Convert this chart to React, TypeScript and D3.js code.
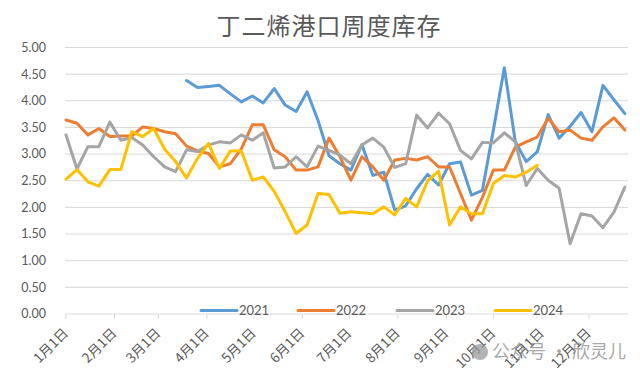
import React from 'react';
import * as d3 from 'd3';

const TITLE = '丁二烯港口周度库存';
const WATERMARK = '公众号 · 欣灵儿';

const yTickValues = [0, 0.5, 1, 1.5, 2, 2.5, 3, 3.5, 4, 4.5, 5];
const monthLabels = ['1月1日', '2月1日', '3月1日', '4月1日', '5月1日', '6月1日', '7月1日', '8月1日', '9月1日', '10月1日', '11月1日', '12月1日'];

const seriesNames = ['2021', '2022', '2023', '2024'];
const seriesColors = ['#5B9BD5', '#ED7D31', '#A5A5A5', '#FFC000'];
// first week index of each series (weeks counted from 1月1日)
const seriesStartWeek = [11, 0, 0, 0];

const values2021 = [4.38, 4.25, 4.27, 4.29, 4.13, 3.98, 4.09, 3.96, 4.23, 3.92, 3.8, 4.17, 3.63, 2.97, 2.82, 2.7, 3.18, 2.6, 2.66, 1.95, 2.03, 2.35, 2.62, 2.42, 2.82, 2.85, 2.23, 2.32, 3.45, 4.62, 3.23, 2.86, 3.04, 3.74, 3.3, 3.52, 3.78, 3.42, 4.29, 4.02, 3.76];
const values2022 = [3.64, 3.58, 3.36, 3.48, 3.33, 3.34, 3.34, 3.51, 3.48, 3.42, 3.38, 3.15, 3.06, 3.01, 2.76, 2.82, 3.1, 3.55, 3.55, 3.08, 2.95, 2.7, 2.7, 2.76, 3.3, 2.95, 2.51, 2.95, 2.76, 2.51, 2.89, 2.92, 2.89, 2.95, 2.76, 2.76, 2.26, 1.76, 2.19, 2.7, 2.7, 3.13, 3.23, 3.32, 3.67, 3.42, 3.45, 3.3, 3.26, 3.51, 3.68, 3.45];
const values2023 = [3.36, 2.72, 3.14, 3.14, 3.6, 3.26, 3.31, 3.17, 2.95, 2.76, 2.67, 3.08, 3.05, 3.17, 3.23, 3.21, 3.36, 3.26, 3.4, 2.74, 2.76, 2.95, 2.76, 3.15, 3.07, 2.98, 2.82, 3.17, 3.3, 3.13, 2.75, 2.82, 3.73, 3.49, 3.77, 3.57, 3.07, 2.91, 3.22, 3.21, 3.4, 3.23, 2.41, 2.73, 2.51, 2.36, 1.32, 1.88, 1.84, 1.62, 1.91, 2.38];
const values2024 = [2.53, 2.71, 2.48, 2.4, 2.71, 2.71, 3.42, 3.33, 3.48, 3.09, 2.86, 2.55, 2.92, 3.2, 2.73, 3.06, 3.06, 2.51, 2.57, 2.3, 1.92, 1.51, 1.67, 2.26, 2.24, 1.89, 1.92, 1.9, 1.88, 2.01, 1.86, 2.17, 2.01, 2.5, 2.68, 1.67, 2.01, 1.88, 1.88, 2.45, 2.6, 2.57, 2.66, 2.79];

const seriesValues = [values2021, values2022, values2023, values2024];

const W = 640;
const H = 378;
const plotLeft = 66;
const plotRight = 628;
const plotTop = 47.5;
const plotBottom = 314;

const base = new Date(2001, 0, 1);
const weekDate = (i: number) => d3.timeDay.offset(base, 7 * i);

export default function App() {
  const x = d3.scaleTime().domain([base, new Date(2001, 11, 26)]).range([plotLeft, plotRight]);
  const y = d3.scaleLinear().domain([0, 5]).range([plotBottom, plotTop]);
  const monthTicks = d3.timeMonth.range(base, new Date(2001, 11, 2));

  const line = d3
    .line<{ d: Date; v: number }>()
    .x((p) => x(p.d))
    .y((p) => y(p.v))
    .curve(d3.curveLinear);

  const numFont = "Lato, 'Noto Sans CJK SC', sans-serif";
  const cjkFont = "'Noto Sans CJK SC', 'Noto Sans', sans-serif";
  const textColor = '#595959';

  const legendX = [201, 298, 397, 495];
  const legendY = 310.5;

  return (
    <svg width={W} height={H} style={{ position: 'absolute', left: 0, top: 0, background: '#fff' }}>
      <rect x={0} y={0} width={W} height={H} fill="#fff" />
      <text x={329} y={35} textAnchor="middle" fontFamily={cjkFont} fontSize={24} fill={textColor} letterSpacing={1}>
        {TITLE}
      </text>
      {yTickValues.map((t) => (
        <g key={t}>
          {t > 0 && <line x1={plotLeft - 1} x2={plotRight} y1={y(t)} y2={y(t)} stroke="#D9D9D9" strokeWidth={1} />}
          <text x={46} y={y(t)} dy="0.35em" textAnchor="end" fontFamily={numFont} fontSize={12.5} fill={textColor}>
            {t.toFixed(2)}
          </text>
        </g>
      ))}
      <line x1={plotLeft - 1} x2={plotRight} y1={plotBottom} y2={plotBottom} stroke="#D9D9D9" strokeWidth={1} />
      {monthTicks.map((m, i) => (
        <g key={i}>
          <line x1={x(m)} x2={x(m)} y1={plotBottom} y2={plotBottom + 5} stroke="#D9D9D9" strokeWidth={1} />
          <text
            transform={`translate(${x(m) + 3},${plotBottom + 20}) rotate(-45)`}
            textAnchor="end"
            fontFamily={cjkFont}
            fontSize={13.5}
            fill={textColor}
          >
            {monthLabels[i]}
          </text>
        </g>
      ))}
      {seriesValues.map((vals, s) => {
        const pts = vals.map((v, i) => ({ d: weekDate(seriesStartWeek[s] + i), v }));
        return (
          <path
            key={s}
            d={line(pts) || ''}
            fill="none"
            stroke={seriesColors[s]}
            strokeWidth={3}
            strokeLinejoin="round"
            strokeLinecap="round"
          />
        );
      })}
      {seriesNames.map((n, s) => (
        <g key={n}>
          <line x1={legendX[s]} x2={legendX[s] + 36} y1={legendY} y2={legendY} stroke={seriesColors[s]} strokeWidth={3} strokeLinecap="round" />
          <text x={legendX[s] + 38} y={legendY} dy="0.35em" fontFamily={numFont} fontSize={13} fill={textColor}>
            {n}
          </text>
        </g>
      ))}
      <g opacity={0.75}>
        <circle cx={480} cy={352} r={8} fill="#9a9a9a" />
        <text x={492} y={352} dy="0.36em" fontFamily={cjkFont} fontSize={18} fill="#8c8c8c">
          {WATERMARK}
        </text>
      </g>
    </svg>
  );
}
